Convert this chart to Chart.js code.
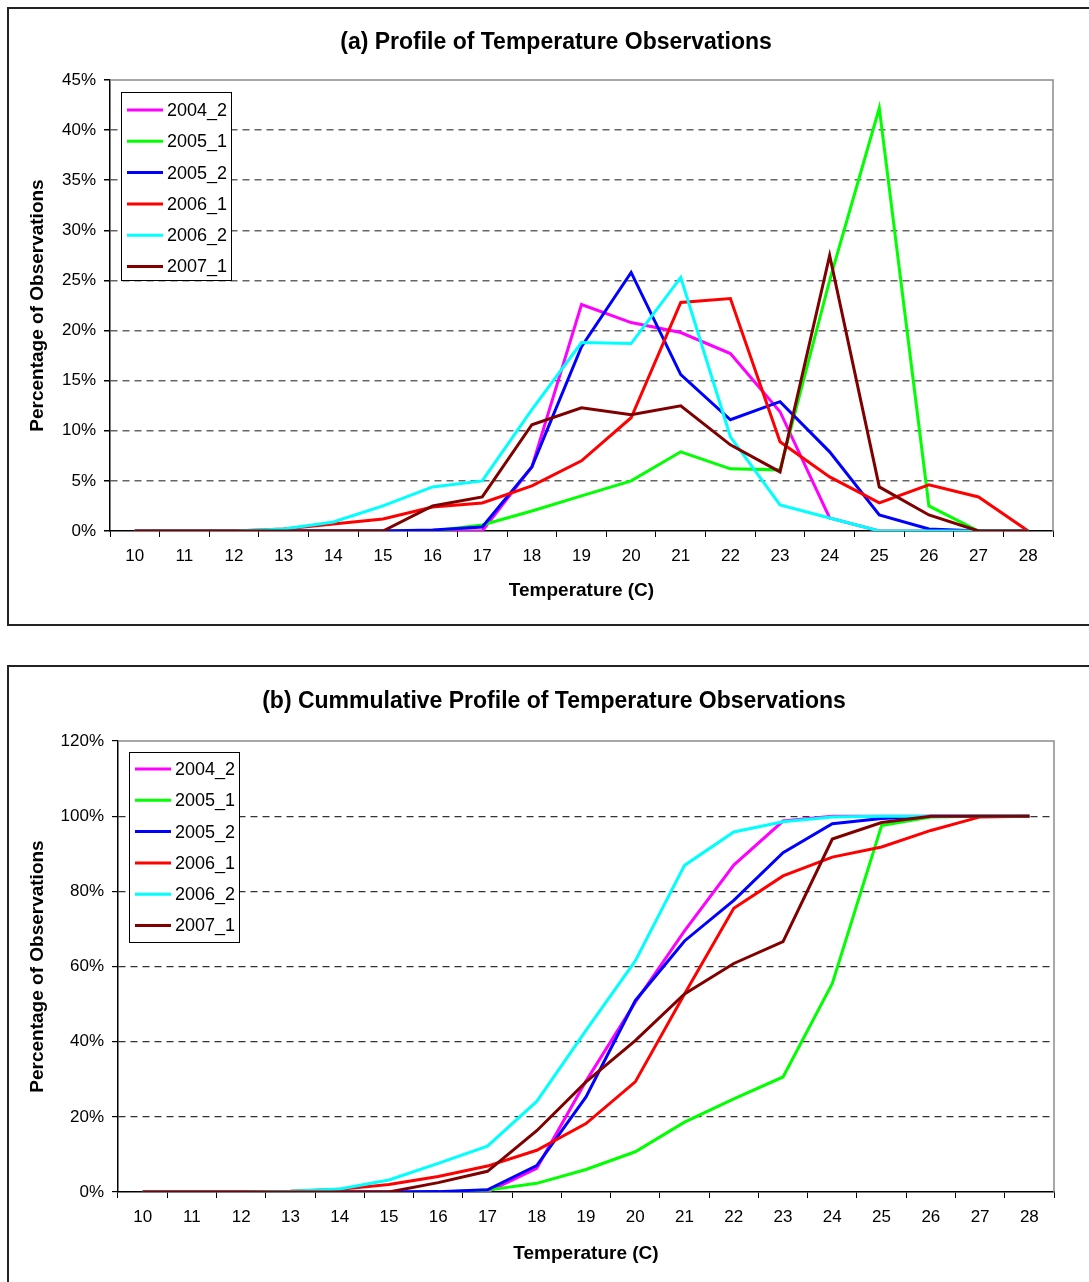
<!DOCTYPE html>
<html>
<head>
<meta charset="utf-8">
<script src="https://cdn.jsdelivr.net/npm/chart.js@4.4.0/dist/chart.umd.min.js"></script>
<style>
  html, body { margin: 0; padding: 0; background: #fff; overflow: hidden; }
  body { width: 1089px; height: 1282px; position: relative; }
  .box { position: absolute; left: 7px; width: 1100px; border: 2px solid #222; background: #fff; }
  #boxA { top: 7px; height: 615px; }
  #boxB { top: 665px; height: 640px; }
  canvas { position: absolute; left: 0; top: 0; }
</style>
</head>
<body>
<div class="box" id="boxA"><canvas id="chartA" width="1080" height="615"></canvas></div>
<div class="box" id="boxB"><canvas id="chartB" width="1080" height="615"></canvas></div>
<script>
const FONT = '"Liberation Sans", Arial, sans-serif';

// categories (temperature, C)
const temps = ['10','11','12','13','14','15','16','17','18','19','20','21','22','23','24','25','26','27','28'];
const series = ['2004_2', '2005_1', '2005_2', '2006_1', '2006_2', '2007_1'];
const colours = ['#FF00FF', '#00FF00', '#0000FF', '#FF0000', '#00FFFF', '#800000'];

// (a) percentage of observations at each temperature
const prof2004_2 = [0, 0, 0, 0, 0, 0, 0, 0, 6.4, 22.6, 20.8, 19.8, 17.7, 11.9, 1.3, 0, 0, 0, 0];
const prof2005_1 = [0, 0, 0, 0, 0, 0, 0, 0.6, 2.0, 3.5, 5.0, 7.9, 6.2, 6.1, 25.0, 42.2, 2.5, 0, 0];
const prof2005_2 = [0, 0, 0, 0, 0, 0, 0.1, 0.4, 6.4, 18.4, 25.8, 15.6, 11.1, 12.9, 7.9, 1.6, 0.2, 0, 0];
const prof2006_1 = [0, 0, 0, 0.2, 0.7, 1.2, 2.4, 2.8, 4.5, 7.0, 11.3, 22.8, 23.2, 8.9, 5.4, 2.8, 4.6, 3.4, 0];
const prof2006_2 = [0, 0, 0, 0.2, 0.9, 2.5, 4.4, 5.0, 12.1, 18.8, 18.7, 25.3, 9.4, 2.6, 1.3, 0, 0, 0, 0];
const prof2007_1 = [0, 0, 0, 0, 0, 0, 2.5, 3.4, 10.6, 12.3, 11.6, 12.5, 8.6, 5.9, 27.5, 4.4, 1.6, 0, 0];

// (b) cummulative percentage of observations
const cum2004_2 = [0, 0, 0, 0, 0, 0, 0, 0, 6.3, 29.5, 50.5, 69.5, 87.0, 98.7, 100, 100, 100, 100, 100];
const cum2005_1 = [0, 0, 0, 0, 0, 0, 0, 0.5, 2.3, 6.0, 10.7, 18.6, 24.8, 30.6, 55.5, 97.5, 99.8, 100, 100];
const cum2005_2 = [0, 0, 0, 0, 0, 0, 0.1, 0.6, 7.0, 25.3, 50.9, 66.8, 77.6, 90.3, 98.0, 99.4, 100, 100, 100];
const cum2006_1 = [0, 0, 0, 0.2, 0.7, 2.0, 4.1, 6.9, 11.1, 18.2, 29.3, 52.7, 75.5, 84.1, 89.1, 91.8, 96.2, 99.8, 100];
const cum2006_2 = [0, 0, 0, 0.2, 0.8, 3.2, 7.6, 12.2, 24.1, 43.0, 61.5, 86.9, 95.8, 98.5, 99.8, 100, 100, 100, 100];
const cum2007_1 = [0, 0, 0, 0, 0, 0, 2.5, 5.5, 16.3, 29.3, 40.3, 52.7, 60.8, 66.6, 93.9, 98.3, 100, 100, 100];

// y axis ticks
const yMaxA = 45, yStepA = 5;
const yMaxB = 120, yStepB = 20;

// chart title, legend box and gray plot frame (top / right), Excel style
const boxLegend = {
  id: 'boxLegend',
  beforeDatasetsDraw(chart, args, opts) {
    const { ctx, chartArea: a } = chart;
    ctx.save();
    ctx.strokeStyle = '#8c8c8c';
    ctx.lineWidth = 1.5;
    ctx.beginPath();
    ctx.moveTo(a.left, a.top);
    ctx.lineTo(a.right, a.top);
    ctx.lineTo(a.right, a.bottom);
    ctx.stroke();
    ctx.restore();
  },
  afterDatasetsDraw(chart, args, opts) {
    const { ctx, chartArea: a } = chart;
    ctx.save();
    // title
    ctx.fillStyle = '#000';
    ctx.font = 'bold 23px ' + FONT;
    ctx.textAlign = 'center';
    ctx.textBaseline = 'alphabetic';
    ctx.fillText(opts.title, opts.titleX, opts.titleY);
    // legend
    const x0 = a.left + opts.x, y0 = a.top + opts.y;
    ctx.textAlign = 'left';
    ctx.fillStyle = '#fff';
    ctx.fillRect(x0, y0, opts.w, opts.h);
    ctx.strokeStyle = '#000';
    ctx.lineWidth = 1;
    ctx.strokeRect(x0 + 0.5, y0 + 0.5, opts.w, opts.h);
    ctx.font = '18px ' + FONT;
    ctx.textBaseline = 'middle';
    chart.data.datasets.forEach((ds, i) => {
      const cy = y0 + opts.first + i * opts.step;
      ctx.strokeStyle = ds.borderColor;
      ctx.lineWidth = 3;
      ctx.beginPath();
      ctx.moveTo(x0 + 6, cy);
      ctx.lineTo(x0 + 42, cy);
      ctx.stroke();
      ctx.fillStyle = '#000';
      ctx.fillText(ds.label, x0 + 46, cy + 1);
    });
    ctx.restore();
  }
};

function makeChart(id, cfg) {
  const datasets = series.map((name, i) => ({
    label: name,
    data: cfg.values[i],
    borderColor: colours[i],
    backgroundColor: colours[i],
    borderWidth: 3,
    pointRadius: 0,
    tension: 0,
    fill: false,
    order: series.length - i
  }));

  return new Chart(document.getElementById(id), {
    type: 'line',
    data: { labels: temps, datasets: datasets },
    options: {
      responsive: false,
      animation: false,
      devicePixelRatio: 1,
      layout: { padding: { right: cfg.padRight, left: 0, top: cfg.padTop, bottom: 0 } },
      plugins: {
        legend: { display: false },
        tooltip: { enabled: false },
        title: { display: false },
        boxLegend: cfg.legend
      },
      scales: {
        x: {
          offset: true,
          grid: {
            offset: true,
            drawOnChartArea: false,
            tickLength: 6,
            tickColor: '#000'
          },
          border: { color: '#000', width: 1.5 },
          ticks: { color: '#000', padding: 9, font: { family: FONT, size: 17 }, maxRotation: 0, autoSkip: false },
          title: {
            display: true,
            text: 'Temperature (C)',
            color: '#000',
            font: { family: FONT, size: 19, weight: 'bold' },
            padding: { top: 0, bottom: cfg.xTitleBottom }
          },
          afterFit: s => { s.height = cfg.xHeight; }
        },
        y: {
          min: 0,
          max: cfg.yMax,
          grid: {
            color: c => (c.tick && (c.tick.value === 0 || c.tick.value === cfg.yMax)) ? 'rgba(0,0,0,0)' : cfg.gridColor,
            lineWidth: cfg.gridWidth,
            tickLength: 6,
            tickColor: '#000'
          },
          border: { color: '#000', width: 1.5, dash: [7, 5] },
          ticks: {
            stepSize: cfg.yStep,
            color: '#000',
            padding: 8,
            font: { family: FONT, size: 17 },
            callback: v => v + '%'
          },
          title: {
            display: true,
            text: 'Percentage of Observations',
            color: '#000',
            font: { family: FONT, size: 19, weight: 'bold' },
            padding: { top: 17, bottom: 0 }
          },
          afterFit: s => { s.width = cfg.yWidth; }
        }
      }
    },
    plugins: [boxLegend]
  });
}

makeChart('chartA', {
  values: [prof2004_2, prof2005_1, prof2005_2, prof2006_1, prof2006_2, prof2007_1],
  yMax: yMaxA, yStep: yStepA,
  yWidth: 101, xHeight: 93, padRight: 36, padTop: 71,
  xTitleBottom: 22,
  gridColor: '#666', gridWidth: 1.5,
  legend: { title: '(a) Profile of Temperature Observations', titleX: 547, titleY: 40,
            x: 11, y: 12, w: 110, h: 188, first: 18, step: 31.3 }
});

makeChart('chartB', {
  values: [cum2004_2, cum2005_1, cum2005_2, cum2006_1, cum2006_2, cum2007_1],
  yMax: yMaxB, yStep: yStepB,
  yWidth: 109, xHeight: 90, padRight: 35, padTop: 74,
  xTitleBottom: 17,
  gridColor: '#333', gridWidth: 1.2,
  legend: { title: '(b) Cummulative Profile of Temperature Observations', titleX: 545, titleY: 41,
            x: 11, y: 11, w: 110, h: 190, first: 17, step: 31.3 }
});
</script>
</body>
</html>
